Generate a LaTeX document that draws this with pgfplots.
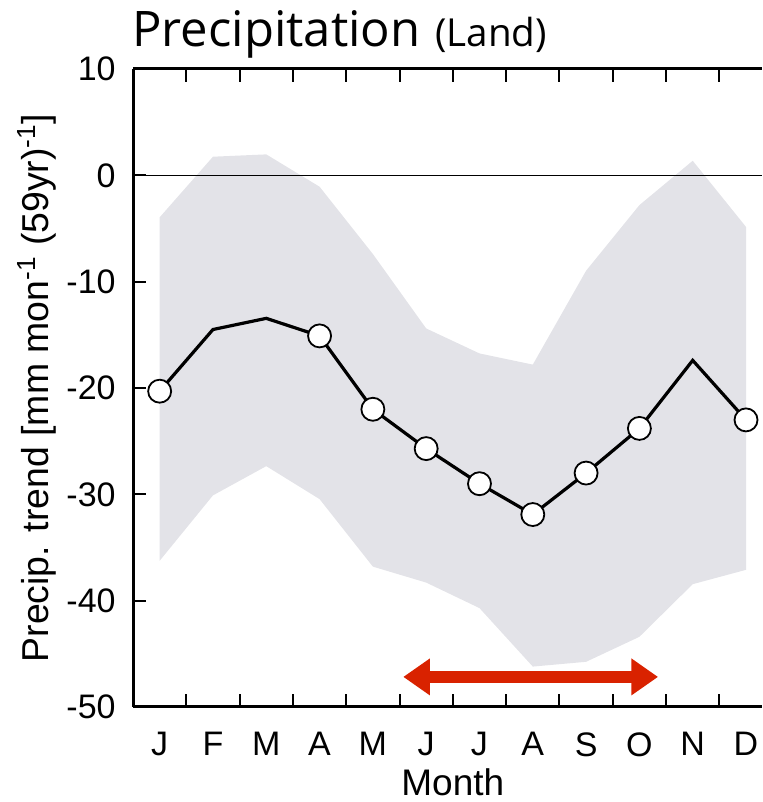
\documentclass[border=0pt]{standalone}
\usepackage{pgfplots}
\pgfplotsset{compat=1.18}
\usepackage{pgfplotstable}
\usepackage{fontspec}
\setmainfont{Liberation Sans}
\newfontfamily\titlefont{Open Sans}
\usetikzlibrary{arrows.meta}
\usepgfplotslibrary{fillbetween}
\definecolor{band}{HTML}{E3E3E8}
\definecolor{arrowred}{HTML}{D92200}

\pgfplotstableread{
m     mean    lo      hi
0.5  -20.3  -36.25  -3.95
1.5  -14.5  -30.1    1.75
2.5  -13.45 -27.35   1.97
3.5  -15.1  -30.45  -1.07
4.5  -22.0  -36.8   -7.4
5.5  -25.7  -38.3  -14.4
6.5  -29.0  -40.7  -16.75
7.5  -31.9  -46.2  -17.8
8.5  -28.0  -45.75  -8.97
9.5  -23.8  -43.4   -2.8
10.5 -17.4  -38.45   1.37
11.5 -23.0  -37.1   -4.85
}\datatable

\pgfplotstableread{
m     mean
0.5  -20.3
3.5  -15.1
4.5  -22.0
5.5  -25.7
6.5  -29.0
7.5  -31.9
8.5  -28.0
9.5  -23.8
11.5 -23.0
}\markertable

\begin{document}
\begin{tikzpicture}
\begin{axis}[
  name=ax,
  scale only axis,
  width=314.5pt, height=319pt,
  xmin=0, xmax=11.8, ymin=-50, ymax=10,
  axis x line=box, axis y line=left,
  axis line style={-, line width=1.5pt},
  tick align=inside,
  major tick length=6.5pt,
  tick style={line width=1pt, black},
  xtick={1,2,...,11},
  xticklabels={},
  extra x ticks={0.5,1.5,...,11.5},
  extra x tick labels={J,F,M,A,M,J,J,A,S,O,N,D},
  extra x tick style={tick style={draw=none}},
  xticklabel style={font=\fontsize{17}{17}\selectfont, anchor=north, inner sep=0pt, yshift=-12.5pt},
  ytick={-50,-40,...,10},
  yticklabel style={font=\fontsize{17}{17}\selectfont, anchor=east, inner sep=0pt, xshift=-8.5pt},
  /pgf/number format/assume math mode=true,
  xlabel={Month},
  xlabel style={at={(rel axis cs:0.50847,0)}, anchor=base, inner sep=0pt, yshift=-44.5pt, font=\fontsize{18.5}{18.5}\selectfont},
  ylabel={Precip. trend [mm mon\textsuperscript{-1} (59yr)\textsuperscript{-1}]},
  ylabel style={at={(rel axis cs:-0.1526,0.5)}, anchor=center, inner sep=0pt, font=\fontsize{18.7}{18.7}\selectfont},
  clip=false,
]
\addplot[name path=hi, draw=none, forget plot] table[x=m, y=hi] {\datatable};
\addplot[name path=lo, draw=none, forget plot] table[x=m, y=lo] {\datatable};
\addplot[band, draw=none] fill between[of=hi and lo];
\addplot[black, line width=0.75pt, forget plot] coordinates {(0,0) (11.8,0)};
\addplot[black, line width=1.6pt, mark=none] table[x=m, y=mean] {\datatable};
\addplot[only marks, mark=*, mark size=5.75pt, mark options={fill=white, draw=black, line width=0.9pt}] table[x=m, y=mean] {\markertable};
\draw[arrowred, line width=6.35pt, {Triangle[length=13.3pt,width=17.5pt]}-{Triangle[length=13.3pt,width=17.5pt]}] (axis cs:5.07,-47.17) -- (axis cs:9.85,-47.17);
\node[anchor=base west, inner sep=0pt, xshift=-0.5pt, yshift=11pt] at (rel axis cs:0,1) {\titlefont\fontsize{24.5}{24.5}\selectfont Precipitation\hspace{0.3em}\fontsize{19.3}{19.3}\selectfont(Land)};
\end{axis}
\pgfresetboundingbox
\path[use as bounding box] ([shift={(-66.5pt,-47.5pt)}]ax.south west) rectangle ([shift={(314.5pt,353.5pt)}]ax.south west);
\end{tikzpicture}
\end{document}
